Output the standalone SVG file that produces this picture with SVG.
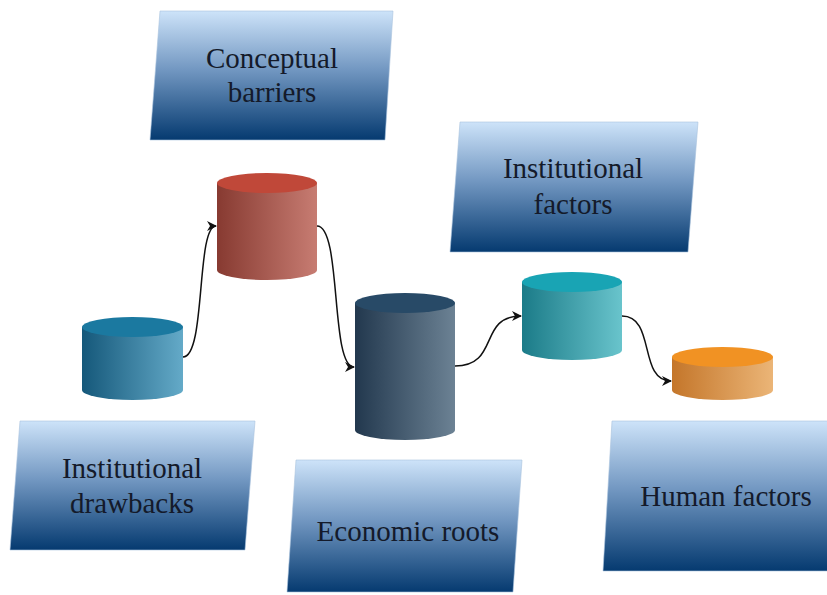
<svg xmlns="http://www.w3.org/2000/svg" width="827" height="595" viewBox="0 0 827 595">
  <defs>
    <!-- label panels: light sky blue fading to deep navy -->
    <linearGradient id="panel" x1="0" y1="0" x2="0" y2="1">
      <stop offset="0" stop-color="#cde3f9"/>
      <stop offset="0.45" stop-color="#7398c2"/>
      <stop offset="1" stop-color="#053a70"/>
    </linearGradient>
    <!-- cylinder side shading, dark on the left, light on the right -->
    <linearGradient id="sideBlue" x1="0" y1="0" x2="1" y2="0">
      <stop offset="0" stop-color="#15587a"/>
      <stop offset="1" stop-color="#64aac8"/>
    </linearGradient>
    <linearGradient id="sideRed" x1="0" y1="0" x2="1" y2="0">
      <stop offset="0" stop-color="#873a31"/>
      <stop offset="1" stop-color="#c77c72"/>
    </linearGradient>
    <linearGradient id="sideSlate" x1="0" y1="0" x2="1" y2="0">
      <stop offset="0" stop-color="#22384e"/>
      <stop offset="1" stop-color="#6c8294"/>
    </linearGradient>
    <linearGradient id="sideTeal" x1="0" y1="0" x2="1" y2="0">
      <stop offset="0" stop-color="#1b7b88"/>
      <stop offset="1" stop-color="#69c4cc"/>
    </linearGradient>
    <linearGradient id="sideOrange" x1="0" y1="0" x2="1" y2="0">
      <stop offset="0" stop-color="#c4762a"/>
      <stop offset="1" stop-color="#ebb577"/>
    </linearGradient>
    <marker id="arrow" viewBox="0 0 10 10" refX="9" refY="5" markerWidth="10" markerHeight="10" markerUnits="userSpaceOnUse" orient="auto">
      <path d="M0,0 L10,5 L0,10 L3,5 Z" fill="#111"/>
    </marker>
  </defs>
  <style>
    .panel { fill: url(#panel); stroke: #a9c3de; stroke-width: 0.6; }
    .label { font-size: 29px; fill: #141a2a; text-anchor: middle; }
    .link { fill: none; stroke: #111; stroke-width: 1.5; marker-end: url(#arrow); }
  </style>

  <rect width="827" height="595" fill="#ffffff"/>

  <!-- label panels -->
  <g font-family="'Liberation Serif', 'DejaVu Serif', serif">
    <g id="conceptual-barriers">
      <polygon class="panel" points="160,11 393,11 385,140 150,140"/>
      <text class="label" x="272" y="68">Conceptual</text>
      <text class="label" x="272" y="102">barriers</text>
    </g>
    <g id="institutional-factors">
      <polygon class="panel" points="460,122 698,122 688,252 450,252"/>
      <text class="label" x="573" y="178">Institutional</text>
      <text class="label" x="573" y="214">factors</text>
    </g>
    <g id="institutional-drawbacks">
      <polygon class="panel" points="20,421 255,421 245,550 10,550"/>
      <text class="label" x="132" y="478">Institutional</text>
      <text class="label" x="132" y="513">drawbacks</text>
    </g>
    <g id="economic-roots">
      <polygon class="panel" points="296,460 522,460 513,592 287,592"/>
      <text class="label" x="408" y="541">Economic roots</text>
    </g>
    <g id="human-factors">
      <polygon class="panel" points="612,421 849,421 840,571 603,571"/>
      <text class="label" x="726" y="506">Human factors</text>
    </g>
  </g>

  <!-- cylinders -->
  <g id="cyl-blue">
    <path d="M82,327 L82,390 A50.5,10 0 0 0 183,390 L183,327 Z" fill="url(#sideBlue)"/>
    <ellipse cx="132.5" cy="327" rx="50.5" ry="10" fill="#1b79a0"/>
  </g>
  <g id="cyl-red">
    <path d="M217,183 L217,270 A50,10 0 0 0 317,270 L317,183 Z" fill="url(#sideRed)"/>
    <ellipse cx="267" cy="183" rx="50" ry="10" fill="#c04839"/>
  </g>
  <g id="cyl-slate">
    <path d="M355,303 L355,430 A50,10 0 0 0 455,430 L455,303 Z" fill="url(#sideSlate)"/>
    <ellipse cx="405" cy="303" rx="50" ry="10" fill="#284a67"/>
  </g>
  <g id="cyl-teal">
    <path d="M522,282 L522,350 A50,10 0 0 0 622,350 L622,282 Z" fill="url(#sideTeal)"/>
    <ellipse cx="572" cy="282" rx="50" ry="10" fill="#19a4b4"/>
  </g>
  <g id="cyl-orange">
    <path d="M672,357 L672,390 A50.5,10 0 0 0 773,390 L773,357 Z" fill="url(#sideOrange)"/>
    <ellipse cx="722.5" cy="357" rx="50.5" ry="10" fill="#f19223"/>
  </g>

  <!-- connectors -->
  <g id="connectors">
    <path class="link" d="M183,357 C206,357 196,226 216,226"/>
    <path class="link" d="M317,226 C342,226 330,367 354,367"/>
    <path class="link" d="M455,366 C500,366 478,316 521,316"/>
    <path class="link" d="M622,316 C656,316 638,381 671,381"/>
  </g>
</svg>
